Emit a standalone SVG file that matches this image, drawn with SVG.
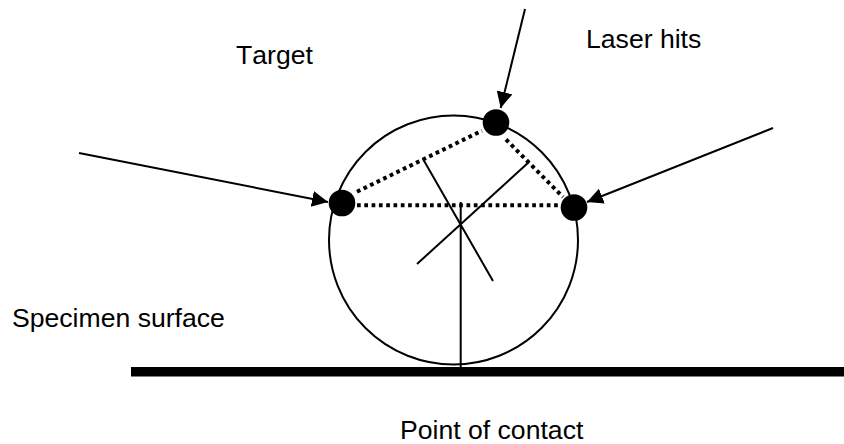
<svg xmlns="http://www.w3.org/2000/svg" width="844" height="444" viewBox="0 0 844 444">
<style>
text{font-family:"Liberation Sans",Arial,sans-serif;font-size:26.6px;font-kerning:none;fill:#000}
.l{stroke:#000;stroke-width:2;fill:none}
.d{stroke:#000;stroke-width:4;stroke-dasharray:3.7 3.6;fill:none}
.h{fill:#000;stroke:none}
</style>
<defs><marker id="a" markerUnits="userSpaceOnUse" markerWidth="20" markerHeight="18" refX="16" refY="8" orient="auto"><path d="M0 0L16 8L0 16Z" fill="#000"/></marker></defs>
<rect width="844" height="444" fill="#fff"/>
<g id="target"><circle class="l" cx="453.500" cy="240" r="124.500"/><text x="236" y="64">Target</text></g>
<g id="surface"><rect x="131" y="367" width="713" height="9.500" fill="#000"/><text x="12" y="327">Specimen surface</text></g>
<g id="contact"><text x="400" y="439">Point of contact</text></g>
<g id="laser"><text x="586" y="48">Laser hits</text></g>
<g id="connectors">
<path class="l" d="M460.700 367V202M417 264L529 162M423 159L493 281"/>
<path class="d" d="M357 191.700L482 130.700M506 139.500L563 197M357 205.300H560"/>
<path class="l" marker-end="url(#a)" d="M79 153L328 202"/>
<path class="l" marker-end="url(#a)" d="M525 9L500.700 108"/>
<path class="l" marker-end="url(#a)" d="M773 128L587 202"/>
</g>
<g id="hits"><circle class="h" cx="342" cy="203" r="13.300"/><circle class="h" cx="496" cy="122.500" r="13.300"/><circle class="h" cx="574" cy="207.500" r="13.300"/></g>
</svg>
